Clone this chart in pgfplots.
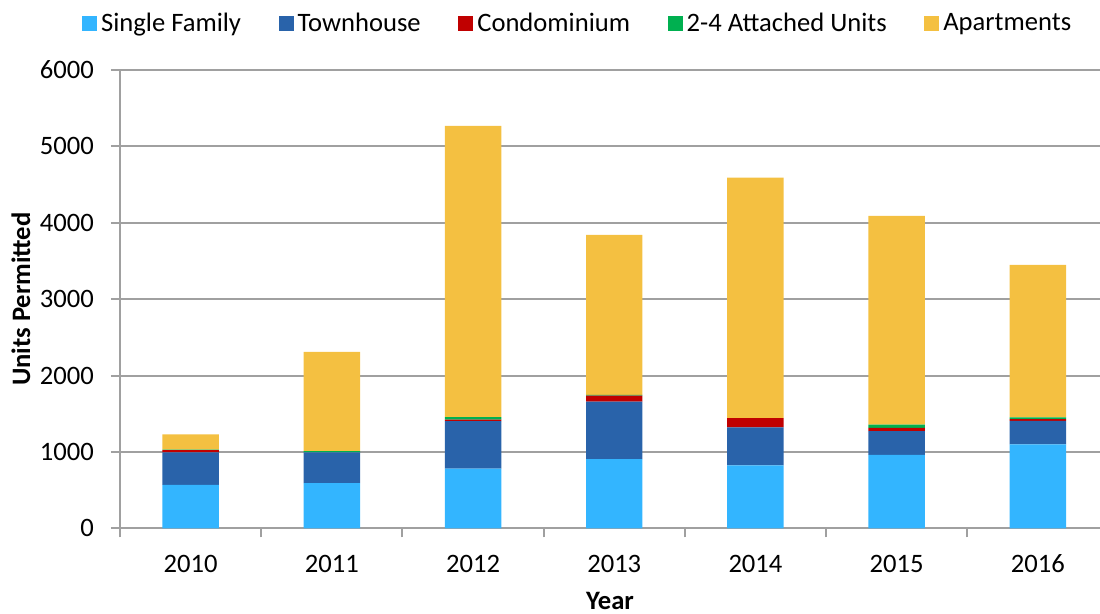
\documentclass[border=0pt]{standalone}
\usepackage{pgfplots}
\pgfplotsset{compat=1.18}
\usepackage{fontspec}
\setmainfont{Carlito}
\definecolor{csf}{RGB}{51,181,255}
\definecolor{cth}{RGB}{41,99,170}
\definecolor{cco}{RGB}{192,0,0}
\definecolor{cat}{RGB}{0,176,80}
\definecolor{cap}{RGB}{244,192,65}
\definecolor{cgr}{RGB}{160,160,160}
\begin{document}
\fontsize{13.3bp}{16bp}\selectfont
\begin{tikzpicture}
\path[use as bounding box] (-60bp,-42.85bp) rectangle (490bp,264.15bp);
\begin{axis}[
  at={(0,0)}, anchor=south west,
  scale only axis, width=490bp, height=229.15bp,
  ybar stacked, bar width=0.4,
  xmin=-0.5, xmax=6.44, ymin=0, ymax=6000,
  xtick={0,1,2,3,4,5,6},
  xticklabels={2010,2011,2012,2013,2014,2015,2016},
  minor xtick={-0.5,0.5,1.5,2.5,3.5,4.5,5.5},
  major x tick style={draw=none},
  ytick={0,1000,2000,3000,4000,5000,6000},
  ymajorgrids,
  grid style={cgr, line width=1bp},
  axis x line*=bottom, axis y line*=left,
  axis line style={cgr, line width=1bp},
  tick style={cgr, line width=1bp},
  tick align=outside,
  major tick length=4.5bp, minor tick length=4.5bp,
  /pgf/number format/assume math mode=true,
  /pgf/number format/1000 sep={},
  tick label style={font=\fontsize{13.3bp}{16bp}\selectfont},
  xticklabel style={text height=9.5bp, text depth=0pt, yshift=-3.5bp},
  yticklabel style={xshift=-4bp},
  xlabel={\textbf{Year}}, ylabel={\textbf{Units Permitted}},
  x label style={at={(axis description cs:0.5,0)}, anchor=center, yshift=-36.5bp},
  y label style={at={(axis description cs:0,0.5)}, anchor=center, yshift=49.5bp},
  legend columns=-1,
  legend style={at={(0.468,1)}, anchor=center, yshift=23bp, draw=none,
    font=\fontsize{13.3bp}{16bp}\selectfont,
    /tikz/every even column/.append style={column sep=16.8bp}},
  legend image code/.code={\fill[#1,draw=none] (-1.5bp,-3.6bp) rectangle (6bp,3.9bp);},
]
\addplot[fill=csf, draw=none] coordinates {(0,567) (1,590) (2,781) (3,907) (4,825) (5,961) (6,1099)};
\addplot[fill=cth, draw=none] coordinates {(0,428) (1,405) (2,623) (3,750) (4,496) (5,311) (6,309)};
\addplot[fill=cco, draw=none] coordinates {(0,30) (1,0) (2,20) (3,80) (4,122) (5,44) (6,20)};
\addplot[fill=cat, draw=none] coordinates {(0,5) (1,15) (2,30) (3,10) (4,0) (5,40) (6,25)};
\addplot[fill=cap, draw=none] coordinates {(0,200) (1,1300) (2,3816) (3,2093) (4,3147) (5,2734) (6,1997)};
\legend{Single Family, Townhouse, Condominium, 2-4 Attached Units, Apartments}
\end{axis}
\end{tikzpicture}
\end{document}
